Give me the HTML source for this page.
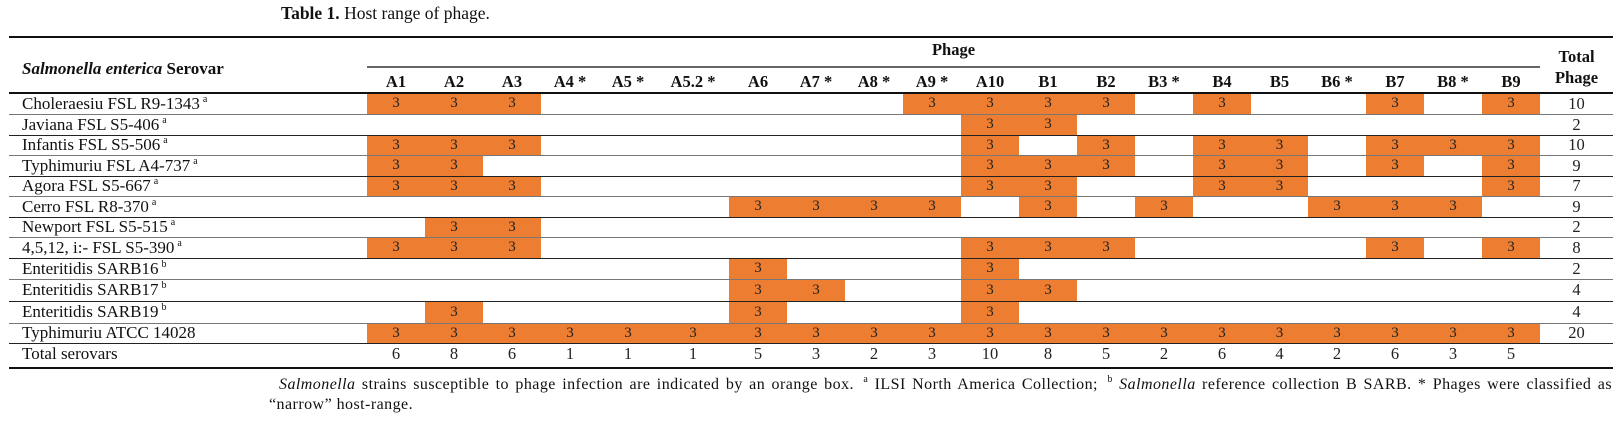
<!DOCTYPE html>
<html><head><meta charset="utf-8">
<style>
body{margin:0;width:1619px;height:421px;background:#fff;position:relative;overflow:hidden;font-family:"Liberation Serif",serif;color:#111}
.a{position:absolute}
.rule{position:absolute;background:#111}
.hd{position:absolute;font-weight:bold;font-size:16.5px;text-align:center;line-height:20px}
.cell{position:absolute;text-align:center;font-size:15px;line-height:20px;color:#222}
.lbl{position:absolute;left:22px;font-size:17px;line-height:20px;white-space:nowrap}
sup{font-size:10px;vertical-align:baseline;position:relative;top:-7px;line-height:0;margin-left:3px}
</style></head><body>
<div class="a" style="left:281px;top:3px;font-size:17.5px;line-height:20px"><b>Table 1.</b> Host range of phage.</div>
<div class="rule" style="left:9px;top:36px;width:1604px;height:2px"></div>
<div class="rule" style="left:367px;top:66px;width:1173px;height:1.5px;background:#666"></div>
<div class="hd" style="left:367px;top:40px;width:1173px">Phage</div>
<div class="a" style="left:22px;top:59px;font-size:17px;line-height:20px"><i style="font-weight:bold">Salmonella enterica</i> <b>Serovar</b></div>
<div class="hd" style="left:1540px;top:46px;width:73px;line-height:21px">Total<br>Phage</div>
<div id="tbl"></div>
<div class="a" style="left:269px;top:375px;width:1343px;font-size:16px;line-height:20px;letter-spacing:0.45px">
<div style="text-align:justify;text-align-last:justify;padding-left:10px"><i>Salmonella</i> strains susceptible to phage infection are indicated by an orange box. <sup>a</sup> ILSI North America Collection; <sup>b</sup> <i>Salmonella</i> reference collection B SARB. * Phages were classified as</div>
<div>“narrow” host-range.</div>
</div>
<script>
const phages=["A1","A2","A3","A4 *","A5 *","A5.2 *","A6","A7 *","A8 *","A9 *","A10","B1","B2","B3 *","B4","B5","B6 *","B7","B8 *","B9"];
const serovars=["Choleraesiu FSL R9-1343","Javiana FSL S5-406","Infantis FSL S5-506","Typhimuriu FSL A4-737","Agora FSL S5-667","Cerro FSL R8-370","Newport FSL S5-515","4,5,12, i:- FSL S5-390","Enteritidis SARB16","Enteritidis SARB17","Enteritidis SARB19","Typhimuriu ATCC 14028"];
const notes=["a","a","a","a","a","a","a","a","b","b","b",""];
const hits=[
["A1","A2","A3","A9 *","A10","B1","B2","B4","B7","B9"],
["A10","B1"],
["A1","A2","A3","A10","B2","B4","B5","B7","B8 *","B9"],
["A1","A2","A10","B1","B2","B4","B5","B7","B9"],
["A1","A2","A3","A10","B1","B4","B5","B9"],
["A6","A7 *","A8 *","A9 *","B1","B3 *","B6 *","B7","B8 *"],
["A2","A3"],
["A1","A2","A3","A10","B1","B2","B7","B9"],
["A6","A10"],
["A6","A7 *","A10","B1"],
["A2","A6","A10"],
phages.slice()];
const totalPhage=[10,2,10,9,7,9,2,8,2,4,4,20];
const totalSerovars=[6,8,6,1,1,1,5,3,2,3,10,8,5,2,6,4,2,6,3,5];
// layout
const colW=[58,58,58,58,58,72,58,58,58,58,58,58,58,58,58,57,58,58,58,58];
const colX=[];let cx=367;colW.forEach(w=>{colX.push(cx);cx+=w;});
const rowY=[93,114,135,155,176,196,217,237,258,279,301,323,343,368];
const T=document.getElementById('tbl');
function add(cls,style,html){const d=document.createElement('div');d.className=cls;d.style.cssText=style;if(html!==undefined)d.innerHTML=html;T.appendChild(d);return d;}
phages.forEach((p,i)=>{
 const h=add('hd',`left:${colX[i]}px;top:72px;width:${colW[i]}px`,p);
 
 
});
serovars.forEach((s,r)=>{
 const y=rowY[r],hgt=rowY[r+1]-y;
 hits[r].forEach(p=>{
  const i=phages.indexOf(p);
  const b=add('cell',`left:${colX[i]}px;top:${y}px;width:${colW[i]}px;height:${hgt}px;background:#ED7D31;line-height:${hgt}px`,'3');
  
  
 });
 const l=add('lbl',`top:${y}px;height:${hgt}px;line-height:${hgt}px`,s+(notes[r]?`<sup>${notes[r]}</sup>`:''));
 
 
 const t=add('cell',`left:1540px;top:${y}px;width:73px;line-height:${hgt}px;font-size:16.5px`,totalPhage[r]);
 
 
});
for(let r=0;r<=serovars.length;r++){
 const ln=add('rule',`left:9px;top:${rowY[r]-(r==0?1:0.5)}px;width:1604px;height:${r==0?1.5:1.2}px;background:${r==0?'#111':(r%2?'#777':'#222')}`);
 
 
}
const tl=add('lbl',`top:343px;line-height:22px`,'Total serovars');


totalSerovars.forEach((v,i)=>{
 const c=add('cell',`left:${colX[i]}px;top:343px;width:${colW[i]}px;line-height:22px;font-size:16.5px`,v);
 
 
});
const br=add('rule','left:9px;top:367px;width:1604px;height:2px');


</script>
</body></html>
